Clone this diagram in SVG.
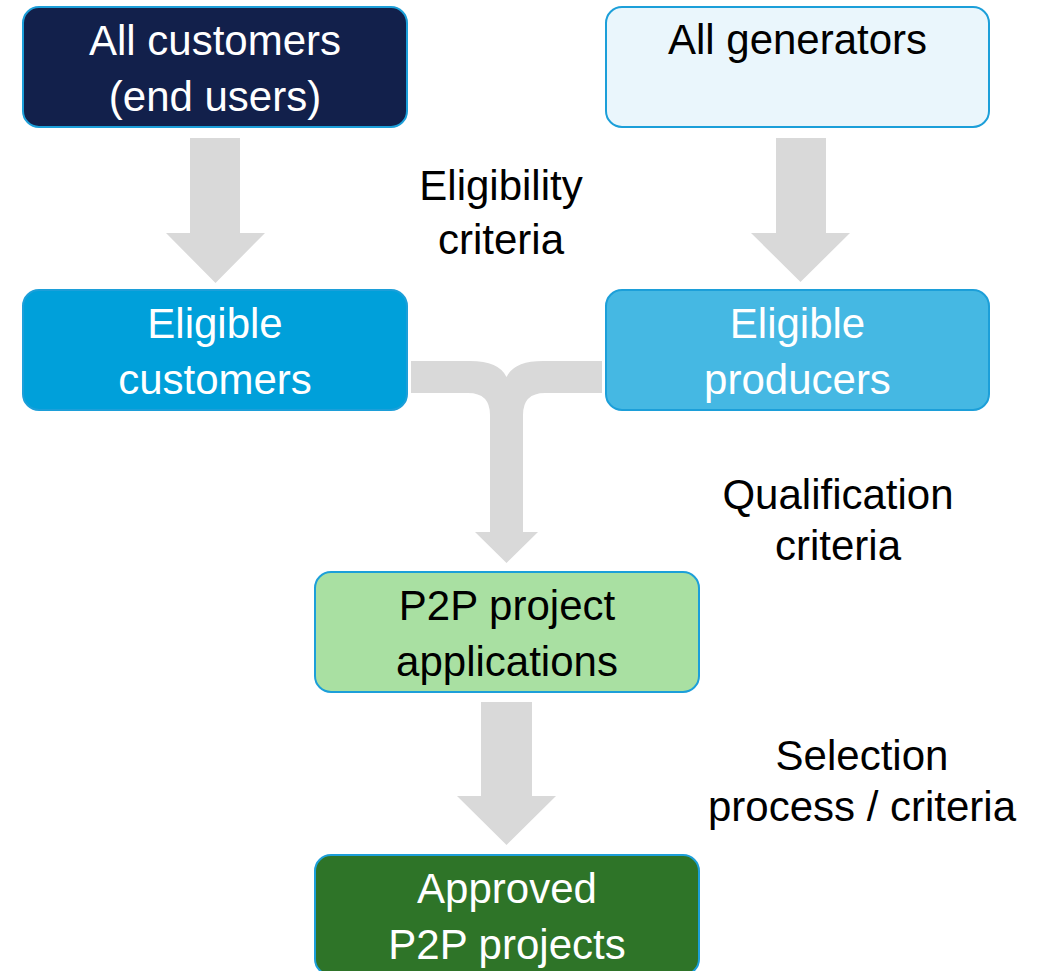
<svg xmlns="http://www.w3.org/2000/svg" width="1043" height="971" viewBox="0 0 1043 971">
<style>
.box{stroke:#1c9fd9;stroke-width:2}
.t{font-family:"Liberation Sans",Arial,sans-serif;font-size:42px;text-anchor:middle}
.lbl{font-family:"Liberation Sans",Arial,sans-serif;font-size:42px;text-anchor:middle;fill:#000}
.arrow{fill:#d9d9d9}
</style>
<rect width="1043" height="971" fill="#fff"/>
<g id="connectors">
<path class="arrow" d="M190,138 L240,138 L240,233 L265,233 L215.5,283 L166,233 L190,233 Z"/>
<path class="arrow" d="M776,138 L826,138 L826,233 L850,233 L800.5,282 L751,233 L776,233 Z"/>
<path class="arrow" d="M411,361 L470,361 Q499,361 506.5,377 Q514,361 543,361 L602,361 L602,393 L545,393 Q523,393 523,415 L523,532 L538,532 L506.5,563 L475,532 L490,532 L490,415 Q490,393 468,393 L411,393 Z"/>
<path class="arrow" d="M481,702 L532,702 L532,796 L556,796 L506.5,845 L457,796 L481,796 Z"/>
</g>
<g id="n-all-customers">
<rect class="box" x="23" y="7" width="384" height="120" rx="16" fill="#12204b"/>
<text class="t" x="215" y="55" fill="#fff">All customers</text>
<text class="t" x="215" y="111" fill="#fff">(end users)</text>
</g>
<g id="n-all-generators">
<rect class="box" x="606" y="7" width="383" height="120" rx="16" fill="#eaf6fc"/>
<text class="t" x="797.5" y="54" fill="#000">All generators</text>
</g>
<g id="n-eligible-customers">
<rect class="box" x="23" y="290" width="384" height="120" rx="16" fill="#00a0da"/>
<text class="t" x="215" y="338" fill="#fff">Eligible</text>
<text class="t" x="215" y="394" fill="#fff">customers</text>
</g>
<g id="n-eligible-producers">
<rect class="box" x="606" y="290" width="383" height="120" rx="16" fill="#45b8e3"/>
<text class="t" x="797.5" y="338" fill="#fff">Eligible</text>
<text class="t" x="797.5" y="394" fill="#fff">producers</text>
</g>
<g id="n-applications">
<rect class="box" x="315" y="572" width="384" height="120" rx="16" fill="#a9e0a2"/>
<text class="t" x="507" y="620" fill="#000">P2P project</text>
<text class="t" x="507" y="676" fill="#000">applications</text>
</g>
<g id="n-approved">
<rect class="box" x="315" y="855" width="384" height="120" rx="16" fill="#2e7428"/>
<text class="t" x="507" y="903" fill="#fff">Approved</text>
<text class="t" x="507" y="959" fill="#fff">P2P projects</text>
</g>
<g id="labels">
<text class="lbl" x="501" y="200">Eligibility</text>
<text class="lbl" x="501" y="254">criteria</text>
<text class="lbl" x="838" y="509">Qualification</text>
<text class="lbl" x="838" y="560">criteria</text>
<text class="lbl" x="862" y="770">Selection</text>
<text class="lbl" x="862" y="821">process / criteria</text>
</g>
</svg>
